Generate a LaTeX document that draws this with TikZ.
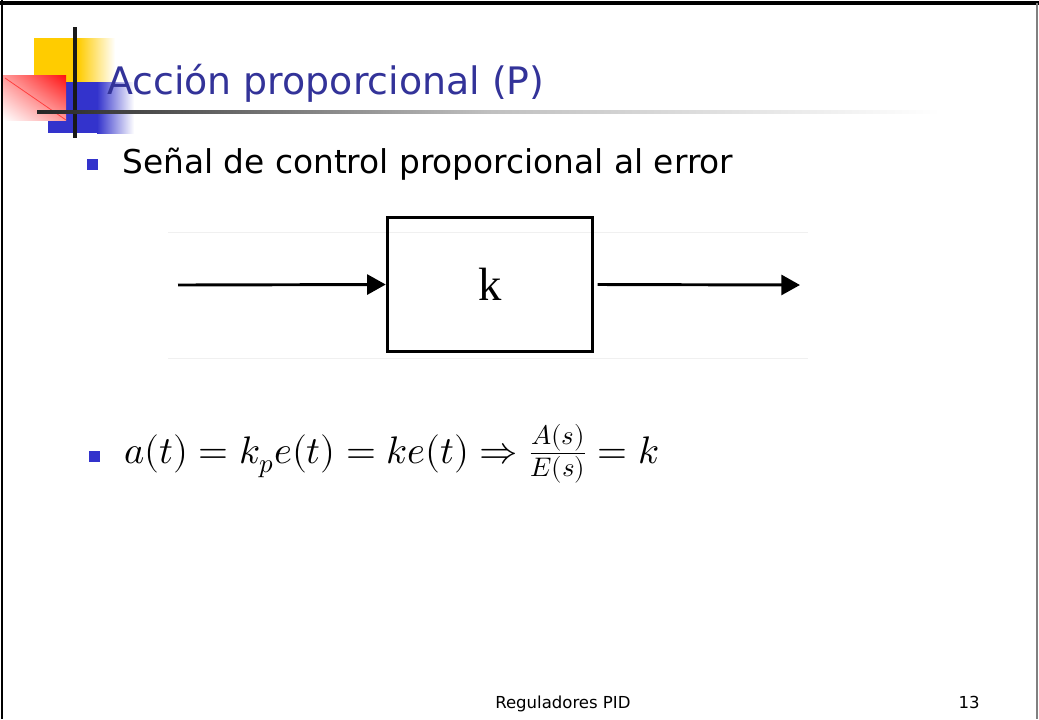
\documentclass[tikz,border=0pt]{standalone}
\usepackage{amsmath}
\usepackage{fontspec}
\usepackage{unicode-math}
\setmainfont{DejaVu Sans}
\setmathfont{Latin Modern Math}
\newfontfamily\timesfont{Liberation Serif}
\usetikzlibrary{arrows.meta,positioning,shadings}
\definecolor{titleblue}{HTML}{333399}
\definecolor{bulletblue}{HTML}{3333CC}
\definecolor{logoyellow}{HTML}{FFCC00}
\definecolor{logoblue}{HTML}{3333CC}
\definecolor{logored}{HTML}{FF1010}

\begin{document}
\begin{tikzpicture}[x=0.75pt,y=-0.75pt,
  bullet/.style={fill=bulletblue,draw=none},
  blockbox/.style={draw,line width=2.4pt,minimum width=154pt,minimum height=100pt,inner sep=0pt},
  sigline/.style={line width=2.2pt,-{Triangle[length=14pt,width=15pt]}},
  faint/.style={draw=black!6,line width=0.6pt}]
  \useasboundingbox (0,0) rectangle (1039,719);
  \fill[white] (0,0) rectangle (1039,719);

  % slide frame
  \draw[line width=2.4pt] (0,3) -- (1039,3);
  \draw[line width=2.2pt] (2,0) -- (2,719);
  \draw[gray,line width=1.5pt] (1037,3) -- (1037,719);

  % logo
  \fill[logoyellow] (34,38) rectangle (78,82);
  \shade[left color=logoyellow,right color=white] (78,38) rectangle (115,82);
  \fill[logoblue] (48,82) rectangle (97,133);
  \shade[left color=logoblue,right color=white] (97,82) rectangle (134,133);
  \shade[upper right=logored,lower left=white,upper left=red!40,lower right=red!40] (3,75) rectangle (66,120);
  \draw[red!75,line width=0.6pt] (5,78) -- (66,120);
  \draw[black!90,line width=3pt] (75,27) -- (75,138);
  \shade[left color=black!85,right color=white,middle color=black!25] (37,110.5) rectangle (940,113.5);

  % title
  \node[anchor=base west,inner sep=0pt,font=\fontsize{28.4}{34}\selectfont,text=titleblue] (title) at (107,94) {Acción proporcional (P)};

  % first bullet
  \fill[bullet] (87,159) rectangle (98,170);
  \node[anchor=base west,inner sep=0pt,font=\fontsize{24.6}{30}\selectfont] (senal) at (122,173) {Señal de control proporcional al error};

  % block diagram
  \draw[faint] (168,232) -- (808,232);
  \draw[faint] (168,358) -- (808,358);
  \node[blockbox] (gain) at (490,284.5) {\timesfont\fontsize{35}{40}\selectfont k};
  \coordinate (in) at (178,285);
  \coordinate (out) at (800,285);
  \draw[sigline] (in) -- (gain.west);
  \draw[sigline] ([xshift=2.5pt]gain.east) -- (out);

  % second bullet
  \fill[bullet] (89,451) rectangle (100,462);
  \node[anchor=base west,inner sep=0pt,font=\fontsize{28.8}{34}\selectfont] (law) at (124,463)
    {$a(t)=k_pe(t)=ke(t)\Rightarrow\frac{A(s)}{E(s)}=k$};

  % footer
  \node[anchor=base west,inner sep=0pt,font=\fontsize{12.4}{15}\selectfont] (foot) at (495,708) {Reguladores PID};
  \node[anchor=base east,inner sep=0pt,font=\fontsize{12.4}{15}\selectfont] (page) at (980,708) {13};
\end{tikzpicture}
\end{document}
